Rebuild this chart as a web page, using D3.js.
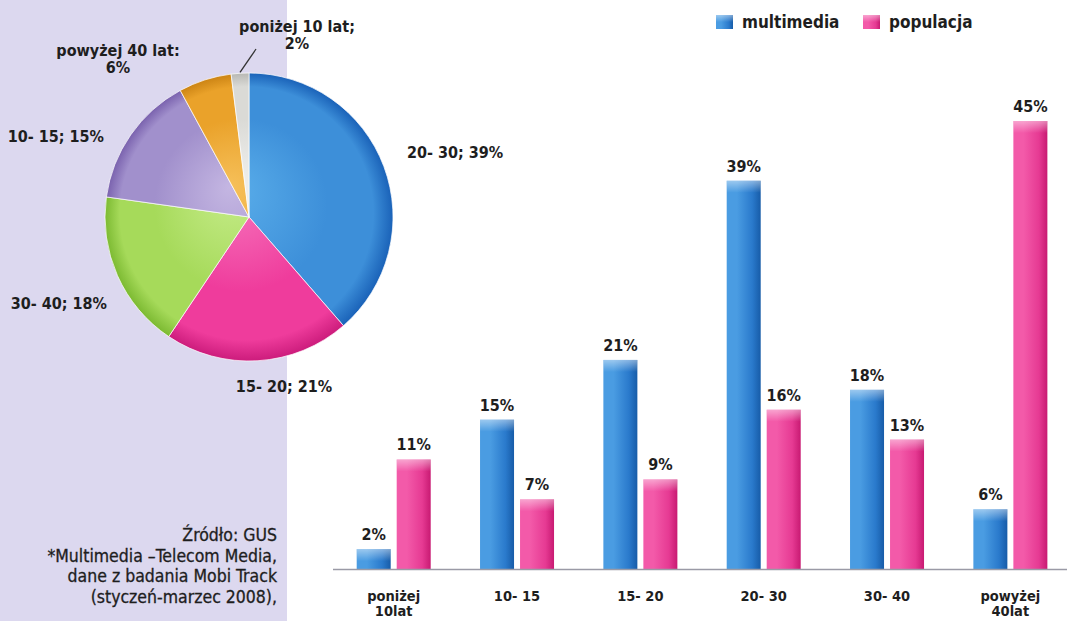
<!DOCTYPE html>
<html>
<head>
<meta charset="utf-8">
<script src="https://cdn.jsdelivr.net/npm/d3@7/dist/d3.min.js"></script>
<style>
  html, body { margin: 0; padding: 0; background: #fff; }
  svg { display: block; }
  text { font-family: "Liberation Sans Narrow", "DejaVu Sans Condensed", "Arial Narrow", sans-serif; fill: #1e1e1e; }
</style>
</head>
<body>
<svg id="chart" width="1067" height="621"></svg>
<script>
// ---------- data ----------
const pieCategories = ["20- 30", "15- 20", "30- 40", "10- 15", "powyżej 40 lat", "poniżej 10 lat"];
const pieValues = [39, 21, 18, 15, 6, 2];
const pieLabels = ["20- 30; 39%", "15- 20; 21%", "30- 40; 18%", "10- 15; 15%", "powyżej 40 lat:|6%", "poniżej 10 lat;|2%"];

const barCategories = ["poniżej|10lat", "10- 15", "15- 20", "20- 30", "30- 40", "powyżej|40lat"];
const seriesNames = ["multimedia", "populacja"];
const multimediaValues = [2, 15, 21, 39, 18, 6];
const populacjaValues = [11, 7, 9, 16, 13, 45];

const sourceLines = ["Źródło: GUS", "*Multimedia –Telecom Media,", "dane z badania Mobi Track", "(styczeń-marzec 2008),"];

// ---------- setup ----------
const W = 1067, H = 621;
const svg = d3.select("#chart");
const defs = svg.append("defs");

// left panel
svg.append("rect").attr("x", 0).attr("y", 0).attr("width", 287).attr("height", H).attr("fill", "#dcd8ef");

// ---------- pie ----------
const pieColors = [
  ["#5aaeea", "#3d8fd9", "#1a62b8"],
  ["#f778bf", "#ef3c9c", "#cc1c7c"],
  ["#c6ec8a", "#a6da5a", "#7cba32"],
  ["#c4b6e2", "#a190cc", "#7a62ae"],
  ["#f6c05a", "#eaa22a", "#cc8414"],
  ["#f2f2f0", "#dadad6", "#b8b8b4"]
];
const cx = 249, cy = 217, R = 144;
const pieGen = d3.pie().sort(null).value(d => d)(pieValues);
const arc = d3.arc().innerRadius(0).outerRadius(R);
const pg = svg.append("g").attr("transform", `translate(${cx},${cy})`);

pieColors.forEach((c, i) => {
  const g = defs.append("radialGradient").attr("id", "pg" + i)
    .attr("gradientUnits", "userSpaceOnUse").attr("cx", 0).attr("cy", 0).attr("r", R)
    .attr("fx", -20).attr("fy", -30);
  g.append("stop").attr("offset", "0%").attr("stop-color", c[0]);
  g.append("stop").attr("offset", "60%").attr("stop-color", c[1]);
  g.append("stop").attr("offset", "88%").attr("stop-color", c[1]);
  g.append("stop").attr("offset", "100%").attr("stop-color", c[2]);
});

pg.selectAll("path.slice").data(pieGen).join("path")
  .attr("class", "slice")
  .attr("d", arc)
  .attr("fill", (d, i) => `url(#pg${i})`)
  .attr("stroke", "rgba(255,255,255,0.7)")
  .attr("stroke-width", 1);

// pie labels
const pieLabelPos = [
  {x: 407, y: 158, anchor: "start"},
  {x: 284, y: 392, anchor: "middle"},
  {x: 107, y: 309, anchor: "end"},
  {x: 104, y: 142, anchor: "end"},
  {x: 118, y: 56, anchor: "middle"},
  {x: 297, y: 32, anchor: "middle"}
];
pieLabels.forEach((lab, i) => {
  const p = pieLabelPos[i];
  const t = svg.append("text").attr("x", p.x).attr("y", p.y)
    .attr("text-anchor", p.anchor).attr("font-size", 16).attr("font-weight", "bold");
  lab.split("|").forEach((s, j) => {
    t.append("tspan").attr("x", p.x).attr("dy", j === 0 ? 0 : 17).text(s);
  });
});
// leader for smallest slice
{
  const d = pieGen[5];
  const a = (d.startAngle + d.endAngle) / 2;
  const x0 = cx + Math.sin(a) * (R + 1), y0 = cy - Math.cos(a) * (R + 1);
  svg.append("line").attr("x1", x0).attr("y1", y0).attr("x2", 256).attr("y2", 49)
    .attr("stroke", "#333").attr("stroke-width", 1.3);
}

// ---------- bars ----------
const baseY = 569;
const x0 = d3.scaleBand().domain(barCategories).range([332, 1072]).padding(0);
const x1 = d3.scaleBand().domain(seriesNames).range([24.7, 98.7]).paddingInner(0.15).paddingOuter(0);
const y = d3.scaleLinear().domain([0, 45]).range([baseY, 121]);

const barColors = {
  multimedia: ["#8cc4f0", "#4a9ce2", "#2a7acc", "#175ca8"],
  populacja: ["#fb9ccf", "#f35aa9", "#e63a93", "#c81a72"]
};
seriesNames.forEach(s => {
  const c = barColors[s];
  const g = defs.append("linearGradient").attr("id", "bg-" + s).attr("x1", 0).attr("x2", 1).attr("y1", 0).attr("y2", 0);
  g.append("stop").attr("offset", "0%").attr("stop-color", c[1]);
  g.append("stop").attr("offset", "30%").attr("stop-color", c[1]);
  g.append("stop").attr("offset", "75%").attr("stop-color", c[2]);
  g.append("stop").attr("offset", "100%").attr("stop-color", c[3]);
  const v = defs.append("linearGradient").attr("id", "bt-" + s).attr("x1", 0).attr("x2", 0).attr("y1", 0).attr("y2", 1);
  v.append("stop").attr("offset", "0%").attr("stop-color", "#fff").attr("stop-opacity", 0.45);
  v.append("stop").attr("offset", "100%").attr("stop-color", "#fff").attr("stop-opacity", 0);
});

const rows = barCategories.map((c, i) => ({cat: c, vals: [
  {s: "multimedia", v: multimediaValues[i]},
  {s: "populacja", v: populacjaValues[i]}
]}));

const groups = svg.selectAll("g.grp").data(rows).join("g")
  .attr("class", "grp").attr("transform", d => `translate(${x0(d.cat)},0)`);

groups.selectAll("rect.bar").data(d => d.vals).join("rect")
  .attr("class", "bar")
  .attr("x", d => x1(d.s)).attr("width", x1.bandwidth())
  .attr("y", d => y(d.v)).attr("height", d => baseY - y(d.v))
  .attr("fill", d => `url(#bg-${d.s})`);
groups.selectAll("rect.top").data(d => d.vals).join("rect")
  .attr("class", "top")
  .attr("x", d => x1(d.s)).attr("width", x1.bandwidth())
  .attr("y", d => y(d.v)).attr("height", d => Math.min(12, baseY - y(d.v)))
  .attr("fill", d => `url(#bt-${d.s})`);

groups.selectAll("text.val").data(d => d.vals).join("text")
  .attr("class", "val")
  .attr("x", d => x1(d.s) + x1.bandwidth() / 2)
  .attr("y", d => y(d.v) - 9)
  .attr("text-anchor", "middle").attr("font-size", 16).attr("font-weight", "bold")
  .text(d => d.v + "%");

// axis line
svg.append("line").attr("x1", 333).attr("x2", W).attr("y1", baseY + 0.5).attr("y2", baseY + 0.5)
  .attr("stroke", "#9a9aa6").attr("stroke-width", 1.5);

// category labels
groups.append("text")
  .attr("text-anchor", "middle").attr("font-size", 14.5).attr("font-weight", "bold")
  .each(function(d) {
    const t = d3.select(this);
    const cxl = x0.bandwidth() / 2;
    d.cat.split("|").forEach((s, j) => {
      t.append("tspan").attr("x", cxl).attr("y", 601 + j * 15).text(s);
    });
  });

// legend
const legX = [716, 863];
seriesNames.forEach((s, i) => {
  const lg = svg.append("g").attr("transform", `translate(${legX[i]},15)`);
  lg.append("rect").attr("width", 17).attr("height", 14).attr("fill", `url(#bg-${s})`);
  lg.append("rect").attr("width", 17).attr("height", 7).attr("fill", `url(#bt-${s})`);
  lg.append("text").attr("x", 26).attr("y", 13).attr("font-size", 17).attr("font-weight", "bold").text(s);
});

// source note
sourceLines.forEach((s, i) => {
  svg.append("text").attr("x", 277).attr("y", 541 + i * 20.5)
    .attr("text-anchor", "end").attr("font-size", 17.5).attr("font-weight", "normal")
    .attr("stroke", "#1e1e1e").attr("stroke-width", 0.3)
    .text(s);
});
</script>
</body>
</html>
